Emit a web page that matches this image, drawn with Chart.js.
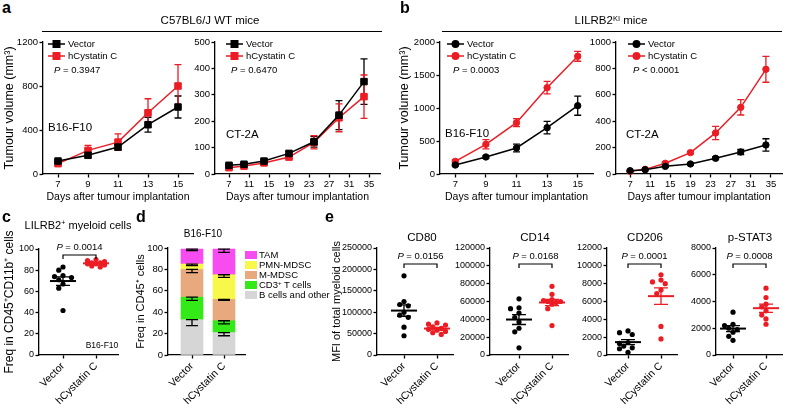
<!DOCTYPE html>
<html>
<head>
<meta charset="utf-8">
<title>Cystatin C, tumour growth and myeloid cells</title>
<script src="https://cdn.jsdelivr.net/npm/chart.js@4.4.1/dist/chart.umd.min.js"></script>
<style>
  html, body { margin: 0; padding: 0; background: #fff; }
  body { position: relative; width: 790px; height: 409px; overflow: hidden; font-family: "Liberation Sans", Arial, Helvetica, sans-serif; color: #000; }
  canvas { position: absolute; }
  .t { position: absolute; white-space: nowrap; line-height: 1; }
  .c { transform: translate(-50%, -50%); }
  .l { transform: translateY(-50%); }
  .panel { font-weight: bold; font-size: 16px; }
  .rule { position: absolute; height: 0; border-top: 1.3px solid #000; }
  .sw { position: absolute; width: 12px; height: 8px; }
  sup { font-size: 65%; line-height: 0; vertical-align: 0.5em; }
</style>
</head>
<body>
<canvas id="wtB16"></canvas>
<canvas id="wtCt2a"></canvas>
<canvas id="kiB16"></canvas>
<canvas id="kiCt2a"></canvas>
<canvas id="lilrb2"></canvas>
<canvas id="subsets"></canvas>
<canvas id="cd80"></canvas>
<canvas id="cd14"></canvas>
<canvas id="cd206"></canvas>
<canvas id="pstat3"></canvas>

<div class="t panel" style="left:2px;top:0px">a</div>
<div class="t c" style="left:210px;top:21px;font-size:11.5px">C57BL6/J WT mice</div>
<div class="rule" style="left:42px;top:31px;width:340px"></div>
<div class="t panel" style="left:400px;top:0px">b</div>
<div class="t c" style="left:611px;top:21px;font-size:11.5px">LILRB2<sup>KI</sup> mice</div>
<div class="rule" style="left:442px;top:31px;width:340px"></div>

<div class="t l" style="left:54px;top:70px;font-size:9.5px"><i>P</i> = 0.3947</div>
<div class="t l" style="left:48px;top:128px;font-size:11.5px">B16-F10</div>
<div class="t l" style="left:231px;top:70px;font-size:9.5px"><i>P</i> = 0.6470</div>
<div class="t l" style="left:226px;top:135px;font-size:11.5px">CT-2A</div>
<div class="t l" style="left:453px;top:70px;font-size:9.5px"><i>P</i> = 0.0003</div>
<div class="t l" style="left:445px;top:134px;font-size:11.5px">B16-F10</div>
<div class="t l" style="left:633px;top:70px;font-size:9.5px"><i>P</i> &lt; 0.0001</div>
<div class="t l" style="left:626px;top:135px;font-size:11.5px">CT-2A</div>

<div class="t panel" style="left:2px;top:209px">c</div>
<div class="t c" style="left:78px;top:225px;font-size:11px">LILRB2<sup>+</sup> myeloid cells</div>
<div class="t c" style="left:102px;top:345px;font-size:8.5px">B16-F10</div>

<div class="t panel" style="left:136px;top:209px">d</div>
<div class="t c" style="left:203px;top:234px;font-size:10px">B16-F10</div>
<div class="sw" style="left:245px;top:251px;background:#f64cf0"></div>
<div class="t l" style="left:259px;top:255px;font-size:9.5px">TAM</div>
<div class="sw" style="left:245px;top:261px;background:#f8f84a"></div>
<div class="t l" style="left:259px;top:265px;font-size:9.5px">PMN-MDSC</div>
<div class="sw" style="left:245px;top:271px;background:#e8a97e"></div>
<div class="t l" style="left:259px;top:275px;font-size:9.5px">M-MDSC</div>
<div class="sw" style="left:245px;top:281px;background:#33ea18"></div>
<div class="t l" style="left:259px;top:285px;font-size:9.5px">CD3<sup>+</sup> T cells</div>
<div class="sw" style="left:245px;top:291px;background:#d6d6d6"></div>
<div class="t l" style="left:259px;top:295px;font-size:9.5px">B cells and other</div>

<div class="t panel" style="left:325px;top:209px">e</div>
<div class="t c" style="left:422px;top:238px;font-size:11.5px">CD80</div>
<div class="t c" style="left:535px;top:238px;font-size:11.5px">CD14</div>
<div class="t c" style="left:645px;top:238px;font-size:11.5px">CD206</div>
<div class="t c" style="left:750px;top:238px;font-size:11.5px">p-STAT3</div>

<script>
// ---- data ----
const b16Days = [7, 9, 11, 13, 15];
const ct2aDays = [7, 10, 14, 19, 24, 29, 34];
const b16DayTicks = [7, 9, 11, 13, 15];
const ct2aDayTicks = [7, 11, 15, 19, 23, 27, 31, 35];

// a: C57BL6/J WT mice (mean, sem)
const wtB16Vector = [118, 170, 245, 448, 609];
const wtB16VectorSem = [14, 22, 25, 68, 100];
const wtB16Cystatin = [94, 215, 290, 557, 800];
const wtB16CystatinSem = [12, 45, 75, 127, 194];
const wtB16YTicks = [0, 400, 800, 1200];

const wtCt2aVector = [33, 37, 49, 78, 122, 223, 350];
const wtCt2aVectorSem = [6, 5, 6, 8, 20, 55, 86];
const wtCt2aCystatin = [24, 30, 42, 64, 120, 213, 293];
const wtCt2aCystatinSem = [5, 5, 5, 6, 25, 53, 82];
const wtCt2aYTicks = [0, 100, 200, 300, 400, 500];

// b: LILRB2 KI mice
const kiB16Vector = [136, 258, 394, 702, 1035];
const kiB16VectorSem = [15, 20, 60, 95, 145];
const kiB16Cystatin = [192, 450, 778, 1308, 1783];
const kiB16CystatinSem = [20, 70, 60, 95, 75];
const kiB16YTicks = [0, 500, 1000, 1500, 2000];

const kiCt2aVector = [25, 33, 58, 76, 119, 167, 220];
const kiCt2aVectorSem = [5, 5, 8, 8, 10, 20, 47];
const kiCt2aCystatin = [20, 35, 81, 162, 311, 505, 793];
const kiCt2aCystatinSem = [5, 6, 10, 10, 50, 58, 98];
const kiCt2aYTicks = [0, 200, 400, 600, 800, 1000];

const groups = ['Vector', 'hCystatin C'];

// c: LILRB2+ myeloid cells (%)
const lilrb2Vector = [83, 80, 75, 74, 73, 71, 67, 63, 42];
const lilrb2Cystatin = [90, 89, 88, 87, 87, 86, 86, 85, 84, 83];
const lilrb2YTicks = [0, 20, 40, 60, 80, 100];

// d: CD45+ composition, bottom to top
const subsets = ['B cells and other', 'CD3⁺ T cells', 'M-MDSC', 'PMN-MDSC', 'TAM'];
const subsetVector = [33, 21, 26, 5, 14];
const subsetVectorSem = [5.5, 3, 3, 1.5, 1.5];
const subsetCystatin = [21, 11, 20, 23, 24];
const subsetCystatinSem = [3, 3, 1, 2.5, 3];
const subsetYTicks = [0, 20, 40, 60, 80, 100];

// e: MFI of total myeloid cells
const cd80Vector = [185000, 125000, 118000, 115000, 100000, 93000, 88000, 65000, 45000];
const cd80Cystatin = [75000, 72000, 70000, 66000, 62000, 60000, 58000, 55000, 52000, 48000];
const cd80YTicks = [0, 50000, 100000, 150000, 200000, 250000];
const cd14Vector = [63000, 53000, 52000, 47000, 42000, 37000, 30000, 26000, 8000];
const cd14Cystatin = [77000, 68000, 62000, 61000, 60000, 60000, 59000, 57000, 52000, 33000];
const cd14YTicks = [0, 20000, 40000, 60000, 80000, 100000, 120000];
const cd206Vector = [2700, 2500, 2300, 1400, 1300, 1000, 800, 700, 300];
const cd206Cystatin = [9000, 8400, 8200, 8000, 7300, 6900, 3200, 1800];
const cd206YTicks = [0, 2000, 4000, 6000, 8000, 10000, 12000];
const pstat3Vector = [3200, 2300, 2200, 2000, 1900, 1700, 1400, 1100];
const pstat3Cystatin = [5000, 4300, 3800, 3600, 3300, 3000, 2700, 2300];
const pstat3YTicks = [0, 2000, 4000, 6000, 8000];

// ---- style ----
const FONT = '"Liberation Sans", Arial, Helvetica, sans-serif';
const INK = '#000000';
const RED = '#ec1c24';
const subsetColors = ['#d6d6d6', '#33ea18', '#e8a97e', '#f8f84a', '#f64cf0'];

// ---- plugins ----
function drawP(ctx, rest, x, y, size) {
  ctx.save();
  ctx.fillStyle = INK;
  ctx.textBaseline = 'middle';
  ctx.font = 'italic ' + size + 'px ' + FONT;
  const wp = ctx.measureText('P').width;
  ctx.font = size + 'px ' + FONT;
  const wr = ctx.measureText(rest).width;
  const x0 = x - (wp + wr) / 2;
  ctx.font = 'italic ' + size + 'px ' + FONT;
  ctx.fillText('P', x0, y);
  ctx.font = size + 'px ' + FONT;
  ctx.fillText(rest, x0 + wp, y);
  ctx.restore();
}

const errorBars = {
  id: 'errorBars',
  beforeDatasetsDraw(chart) {
    const ctx = chart.ctx;
    const ys = chart.scales.y;
    chart.data.datasets.forEach((ds, i) => {
      if (!ds.errors) return;
      const meta = chart.getDatasetMeta(i);
      ctx.save();
      ctx.strokeStyle = ds.borderColor;
      ctx.lineWidth = 1.3;
      meta.data.forEach((el, j) => {
        const v = ds.data[j].y;
        const e = ds.errors[j];
        const y1 = ys.getPixelForValue(v + e);
        const y2 = ys.getPixelForValue(v - e);
        ctx.beginPath();
        ctx.moveTo(el.x, y1); ctx.lineTo(el.x, y2);
        ctx.moveTo(el.x - 3.5, y1); ctx.lineTo(el.x + 3.5, y1);
        ctx.moveTo(el.x - 3.5, y2); ctx.lineTo(el.x + 3.5, y2);
        ctx.stroke();
      });
      ctx.restore();
    });
  }
};

const lineLegend = {
  id: 'lineLegend',
  afterDraw(chart, args, opts) {
    if (opts.x === undefined) return;
    const ctx = chart.ctx;
    const x0 = chart.chartArea.left + opts.x;
    chart.data.datasets.forEach((ds, i) => {
      const y = chart.chartArea.top + opts.y + i * 12;
      ctx.save();
      ctx.strokeStyle = ds.borderColor;
      ctx.fillStyle = ds.pointBackgroundColor;
      ctx.lineWidth = 1.5;
      ctx.beginPath();
      ctx.moveTo(x0, y); ctx.lineTo(x0 + 17, y);
      ctx.stroke();
      Chart.helpers.drawPoint(ctx, { pointStyle: ds.pointStyle, radius: ds.pointRadius, borderWidth: 1, rotation: 0 }, x0 + 8.5, y);
      ctx.fillStyle = INK;
      ctx.font = '9.5px ' + FONT;
      ctx.textBaseline = 'middle';
      ctx.fillText(ds.label, x0 + 20, y);
      ctx.restore();
    });
  }
};

const meanSem = {
  id: 'meanSem',
  afterDatasetsDraw(chart) {
    const ctx = chart.ctx;
    const xs = chart.scales.x;
    const ys = chart.scales.y;
    chart.data.datasets.forEach((ds) => {
      const vals = ds.data.map(p => p.y);
      const n = vals.length;
      const mean = vals.reduce((a, b) => a + b, 0) / n;
      const sd = Math.sqrt(vals.reduce((a, b) => a + (b - mean) ** 2, 0) / (n - 1));
      const sem = sd / Math.sqrt(n);
      const cx = xs.getPixelForValue(ds.group);
      const ym = ys.getPixelForValue(mean);
      const yt = ys.getPixelForValue(mean + sem);
      const yb = ys.getPixelForValue(mean - sem);
      ctx.save();
      ctx.strokeStyle = ds.backgroundColor;
      ctx.lineWidth = 2;
      ctx.beginPath();
      ctx.moveTo(cx - 13, ym); ctx.lineTo(cx + 13, ym);
      ctx.stroke();
      ctx.lineWidth = 1.3;
      ctx.beginPath();
      ctx.moveTo(cx, yt); ctx.lineTo(cx, yb);
      ctx.moveTo(cx - 7, yt); ctx.lineTo(cx + 7, yt);
      ctx.moveTo(cx - 7, yb); ctx.lineTo(cx + 7, yb);
      ctx.stroke();
      ctx.restore();
    });
  }
};

const bracket = {
  id: 'bracket',
  afterDraw(chart, args, opts) {
    if (opts.y === undefined) return;
    const ctx = chart.ctx;
    const xs = chart.scales.x;
    const x1 = xs.getPixelForValue(0);
    const x2 = xs.getPixelForValue(1);
    const y = chart.chartArea.top + opts.y;
    ctx.save();
    ctx.strokeStyle = INK;
    ctx.lineWidth = 1.2;
    ctx.beginPath();
    ctx.moveTo(x1, y + 4); ctx.lineTo(x1, y); ctx.lineTo(x2, y); ctx.lineTo(x2, y + 4);
    ctx.stroke();
    ctx.restore();
    drawP(ctx, opts.text, (x1 + x2) / 2, y - 7.5, 9.5);
  }
};

const stackErrors = {
  id: 'stackErrors',
  afterDatasetsDraw(chart) {
    const ctx = chart.ctx;
    const ys = chart.scales.y;
    const n = chart.data.datasets.length;
    ctx.save();
    ctx.strokeStyle = INK;
    ctx.lineWidth = 1.3;
    for (let i = 0; i < n; i++) {
      const ds = chart.data.datasets[i];
      const meta = chart.getDatasetMeta(i);
      meta.data.forEach((bar, j) => {
        let top = 0;
        for (let k = 0; k <= i; k++) top += chart.data.datasets[k].data[j].y;
        const y1 = ys.getPixelForValue(top);
        const y2 = ys.getPixelForValue(top - ds.errors[j]);
        ctx.beginPath();
        ctx.moveTo(bar.x, y1); ctx.lineTo(bar.x, y2);
        ctx.moveTo(bar.x - 6, y2); ctx.lineTo(bar.x + 6, y2);
        ctx.moveTo(bar.x - 6, y1); ctx.lineTo(bar.x + 6, y1);
        ctx.stroke();
      });
    }
    ctx.restore();
  }
};

// ---- helpers ----
function mount(id, plot, yW, xH, pad) {
  const c = document.getElementById(id);
  const left = plot.l - yW - pad[0];
  const top = plot.t - pad[1];
  const w = Math.round(plot.r + pad[2] - left);
  const h = Math.round(plot.b + xH + pad[3] - top);
  c.style.left = left + 'px';
  c.style.top = top + 'px';
  c.style.width = w + 'px';
  c.style.height = h + 'px';
  c.width = w;
  c.height = h;
  return c;
}

function baseAxis(tickSize) {
  return {
    offset: false,
    border: { display: true, color: INK, width: 1.3 },
    grid: { drawOnChartArea: false, drawTicks: true, tickLength: 3.5, tickWidth: 1.3, color: INK, offset: false },
    ticks: { color: INK, font: { family: FONT, size: tickSize }, padding: 1.5, autoSkip: false },
  };
}

function yAxis(tickVals, yW, title, size, pad, tickSize) {
  const a = baseAxis(tickSize || 9.5);
  a.min = tickVals[0];
  a.max = tickVals[tickVals.length - 1];
  a.afterBuildTicks = s => { s.ticks = tickVals.map(v => ({ value: v })); };
  a.afterFit = s => { s.width = yW; };
  a.ticks.callback = v => String(v);
  if (title) {
    a.title = { display: true, text: title, color: INK, font: { family: FONT, size: size }, padding: { top: pad, bottom: 0 } };
  }
  return a;
}

function xAxis(min, max, tickVals, xH, labels, rotate, title) {
  const a = baseAxis(9.5);
  a.type = 'linear';
  a.min = min;
  a.max = max;
  a.afterBuildTicks = s => { s.ticks = tickVals.map(v => ({ value: v })); };
  a.afterFit = s => { s.height = xH; };
  a.ticks.minRotation = rotate;
  a.ticks.maxRotation = rotate;
  a.ticks.callback = v => labels ? labels[v] : String(v);
  if (rotate) a.ticks.font = { family: FONT, size: 10.5 };
  if (title) {
    a.title = { display: true, text: title, color: INK, font: { family: FONT, size: 10.5 }, padding: { top: 0, bottom: 0 } };
  }
  return a;
}

function tumourChart(id, plot, yW, days, xRange, dayTicks, yTicks, series, style, yTitle, legendX) {
  const canvas = mount(id, plot, yW, 29, [0, 12, 8, 0]);
  new Chart(canvas, {
    type: 'line',
    data: {
      datasets: series.map(s => ({
        label: s.label,
        data: days.map((d, i) => ({ x: d, y: s.values[i] })),
        errors: s.sem,
        borderColor: s.color,
        backgroundColor: s.color,
        pointBackgroundColor: s.color,
        pointBorderColor: s.color,
        pointStyle: style,
        pointRadius: style === 'rect' ? 4.6 : 3.2,
        pointBorderWidth: 1,
        borderWidth: 1.5,
        tension: 0,
      })),
    },
    options: {
      responsive: false,
      animation: false,
      devicePixelRatio: 1,
      clip: false,
      layout: { padding: { left: 0, top: 12, right: 8, bottom: 0 } },
      scales: {
        x: xAxis(xRange[0], xRange[1], dayTicks, 29, null, 0, 'Days after tumour implantation'),
        y: yAxis(yTicks, yW, yTitle, 12.5, 2.5),
      },
      plugins: {
        legend: { display: false },
        tooltip: { enabled: false },
        lineLegend: { x: legendX, y: 2 },
      },
    },
    plugins: [errorBars, lineLegend],
  });
}

// spreads dots sideways so that near-equal values do not sit on top of each other;
// the spread is capped, and crowded dots take the least crowded slot
function swarm(values, yPx, xPx, d, maxDx) {
  const placed = [];
  const offsets = new Array(values.length).fill(0);
  const order = values.map((_, i) => i).sort((a, b) => values[b] - values[a]);
  const step = d * 0.85;
  const slots = [0];
  for (let k = 1; k * step <= maxDx; k++) slots.push(-k * step, k * step);
  order.forEach(i => {
    const y = values[i] * yPx;
    let best = 0;
    let bestGap = -1;
    for (const dx of slots) {
      const gap = placed.length ? Math.min(...placed.map(p => Math.hypot(p.x - dx, p.y - y))) : Infinity;
      if (gap >= d) { best = dx; bestGap = gap; break; }
      if (gap > bestGap) { best = dx; bestGap = gap; }
    }
    placed.push({ x: best, y: y });
    offsets[i] = best / xPx;
  });
  return offsets;
}

function dotChart(id, plot, yW, centers, yTicks, vecVals, cysVals, pText, bracketY, yTitle, titleSize, titlePad, padTop) {
  const canvas = mount(id, plot, yW, 56, [0, padTop, 14, 0]);
  const xPx = 33;
  const xMin = -(centers[0] - plot.l) / xPx;
  const xMax = 1 + (plot.r - centers[1]) / xPx;
  const yPx = (plot.b - plot.t) / yTicks[yTicks.length - 1];
  const sets = [vecVals, cysVals].map((vals, g) => {
    const off = swarm(vals, yPx, xPx, 5, 12);
    return {
      label: groups[g],
      group: g,
      data: vals.map((v, i) => ({ x: g + off[i], y: v })),
      backgroundColor: g ? RED : INK,
      borderColor: g ? RED : INK,
      pointRadius: 2.6,
      pointBorderWidth: 0,
    };
  });
  new Chart(canvas, {
    type: 'scatter',
    data: { datasets: sets },
    options: {
      responsive: false,
      animation: false,
      devicePixelRatio: 1,
      clip: false,
      layout: { padding: { left: 0, top: padTop, right: 14, bottom: 0 } },
      scales: {
        x: xAxis(xMin, xMax, [0, 1], 56, groups, 45, null),
        y: yAxis(yTicks, yW, yTitle, titleSize, titlePad, 9),
      },
      plugins: {
        legend: { display: false },
        tooltip: { enabled: false },
        bracket: { y: bracketY, text: pText },
      },
    },
    plugins: [meanSem, bracket],
  });
}

// ---- a / b: tumour growth ----
tumourChart('wtB16', { l: 43, r: 193, t: 42, b: 174 }, 43, b16Days, [6, 16], b16DayTicks, wtB16YTicks, [
  { label: 'Vector', values: wtB16Vector, sem: wtB16VectorSem, color: INK },
  { label: 'hCystatin C', values: wtB16Cystatin, sem: wtB16CystatinSem, color: RED },
], 'rect', 'Tumour volume (mm³)', 5);

tumourChart('wtCt2a', { l: 215, r: 380, t: 42, b: 174 }, 30, ct2aDays, [4.2, 37.2], ct2aDayTicks, wtCt2aYTicks, [
  { label: 'Vector', values: wtCt2aVector, sem: wtCt2aVectorSem, color: INK },
  { label: 'hCystatin C', values: wtCt2aCystatin, sem: wtCt2aCystatinSem, color: RED },
], 'rect', null, 11);

tumourChart('kiB16', { l: 440, r: 593, t: 42, b: 174 }, 45, b16Days, [6, 16], b16DayTicks, kiB16YTicks, [
  { label: 'Vector', values: kiB16Vector, sem: kiB16VectorSem, color: INK },
  { label: 'hCystatin C', values: kiB16Cystatin, sem: kiB16CystatinSem, color: RED },
], 'circle', 'Tumour volume (mm³)', 7);

tumourChart('kiCt2a', { l: 616, r: 782, t: 42, b: 174 }, 30, ct2aDays, [4.2, 37.2], ct2aDayTicks, kiCt2aYTicks, [
  { label: 'Vector', values: kiCt2aVector, sem: kiCt2aVectorSem, color: INK },
  { label: 'hCystatin C', values: kiCt2aCystatin, sem: kiCt2aCystatinSem, color: RED },
], 'circle', null, 12);

// ---- c ----
dotChart('lilrb2', { l: 39, r: 118, t: 249, b: 355 }, 39, [63, 96], lilrb2YTicks, lilrb2Vector, lilrb2Cystatin,
  ' = 0.0014', 6, 'Freq in CD45⁺CD11b⁺ cells', 12, 2, 30);

// ---- d: stacked composition ----
(function () {
  const plot = { l: 168, r: 245, t: 248, b: 355 };
  const canvas = mount('subsets', plot, 34, 56, [0, 10, 6, 0]);
  const xPx = 32;
  const xMin = -(192 - plot.l) / xPx;
  const xMax = 1 + (plot.r - 224) / xPx;
  new Chart(canvas, {
    type: 'bar',
    data: {
      datasets: subsets.map((name, k) => ({
        label: name,
        data: [{ x: 0, y: subsetVector[k] }, { x: 1, y: subsetCystatin[k] }],
        errors: [subsetVectorSem[k], subsetCystatinSem[k]],
        backgroundColor: subsetColors[k],
        borderWidth: 0,
        barThickness: 22,
      })),
    },
    options: {
      responsive: false,
      animation: false,
      devicePixelRatio: 1,
      layout: { padding: { left: 0, top: 10, right: 6, bottom: 0 } },
      scales: {
        x: Object.assign(xAxis(xMin, xMax, [0, 1], 56, groups, 45, null), { stacked: true }),
        y: Object.assign(yAxis(subsetYTicks, 34, 'Freq in CD45⁺ cells', 11, 0), { stacked: true }),
      },
      plugins: { legend: { display: false }, tooltip: { enabled: false } },
    },
    plugins: [stackErrors],
  });
})();

// ---- e: MFI panels ----
dotChart('cd80', { l: 377, r: 453, t: 248, b: 355 }, 47, [404, 437], cd80YTicks, cd80Vector, cd80Cystatin,
  ' = 0.0156', 16, 'MFI of total myeloid cells', 11, 0, 10);
dotChart('cd14', { l: 490, r: 568, t: 248, b: 355 }, 40, [519, 552], cd14YTicks, cd14Vector, cd14Cystatin,
  ' = 0.0168', 16, null, 11, 0, 10);
dotChart('cd206', { l: 607, r: 677, t: 248, b: 355 }, 40, [628, 661], cd206YTicks, cd206Vector, cd206Cystatin,
  ' = 0.0001', 16, null, 11, 0, 10);
dotChart('pstat3', { l: 716, r: 782, t: 248, b: 355 }, 40, [733, 766], pstat3YTicks, pstat3Vector, pstat3Cystatin,
  ' = 0.0008', 16, null, 11, 0, 10);
</script>
</body>
</html>
